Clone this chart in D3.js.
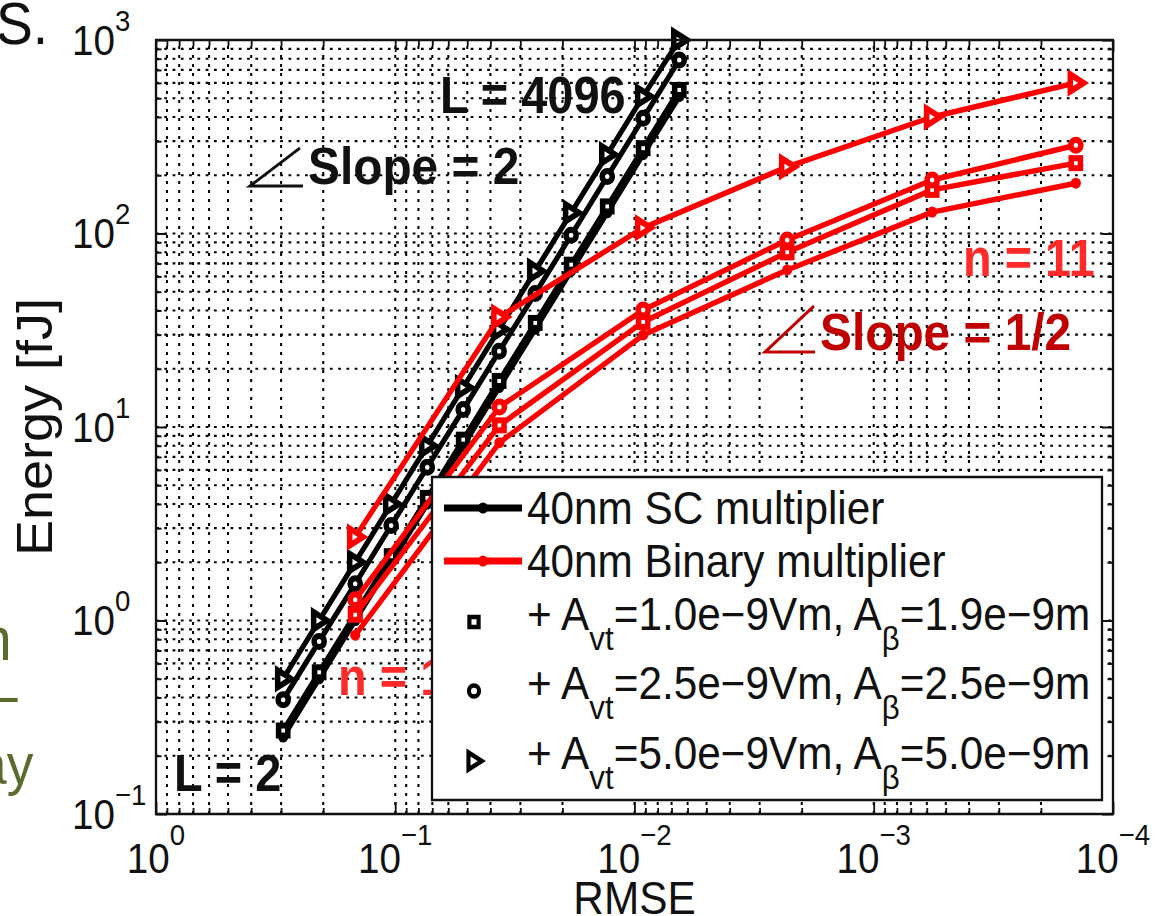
<!DOCTYPE html>
<html><head><meta charset="utf-8">
<script src="https://cdn.jsdelivr.net/npm/d3@7"></script>
<style>html,body{margin:0;padding:0;background:#fff;overflow:hidden}svg{display:block}</style>
</head><body>
<script>
// ---------- data ----------
const xTickExps = [0, -1, -2, -3, -4];
const yTickExps = [-1, 0, 1, 2, 3];

// SC multiplier: L = 2 ... 4096
const scL = [2, 4, 8, 16, 32, 64, 128, 256, 512, 1024, 2048, 4096];
const scRMSE = [0.294, 0.208, 0.147, 0.104, 0.0735, 0.052, 0.0368, 0.026, 0.0184, 0.013, 0.0092, 0.0065];
const scBase = [0.25, 0.50, 1.0, 2.0, 4.0, 8.0, 16, 32, 64, 128, 256, 510];
const scSquare = [0.27, 0.54, 1.08, 2.15, 4.3, 8.6, 17.3, 34.5, 69, 138, 276, 552];
const scCircle = [0.39, 0.78, 1.55, 3.1, 6.2, 12.3, 24.6, 49, 98, 197, 394, 788];
const scTriangle = [0.50, 1.0, 2.0, 4.0, 8.0, 16, 32, 64, 128, 256, 512, 1000];

// Binary multiplier: n = 1 ... 11
const binN = [1, 3, 5, 7, 9, 11];
const binRMSE = [0.147, 0.0367, 0.0092, 0.0023, 0.00057, 0.000143];
const binBase = [0.84, 8.3, 29.9, 64.8, 129, 182];
const binSquare = [1.07, 10.2, 34.9, 80, 168, 231];
const binCircle = [1.28, 12.7, 40.2, 92.6, 189, 286];
const binTriangle = [2.7, 37, 107, 221, 400, 600];

const legendLabels = ["40nm SC multiplier", "40nm Binary multiplier"];
const mismatchLabels = [
  ["1.0e\u22129Vm", "1.9e\u22129m"],
  ["2.5e\u22129Vm", "2.5e\u22129m"],
  ["5.0e\u22129Vm", "5.0e\u22129m"]
];

// ---------- setup ----------
const W = 1163, H = 916, SX = 0.92;
const X = px => px / SX;
const FONT = "'Liberation Sans', Arial, Helvetica, sans-serif";
const svg = d3.select("body").append("svg").attr("width", W).attr("height", H)
  .style("font-family", FONT);
const root = svg.append("g").attr("transform", `scale(${SX},1)`);

const x = d3.scaleLog().domain([1, 1e-4]).range([X(156), X(1113)]);
const y = d3.scaleLog().domain([0.1, 1000]).range([814, 40]);
const [x0, x1] = x.range(), [y0, y1] = y.range();

const majorX = xTickExps.map(e => Math.pow(10, e));
const majorY = yTickExps.map(e => Math.pow(10, e));
const minorX = [], minorY = [];
for (let e = -4; e <= -1; e++) for (let m = 2; m <= 9; m++) minorX.push(m * Math.pow(10, e));
for (let e = -1; e <= 2; e++) for (let m = 2; m <= 9; m++) minorY.push(m * Math.pow(10, e));

// ---------- background fragments ----------
root.append("text").attr("x", X(-4)).attr("y", 44).attr("font-size", 60).attr("fill", "#111").text("S.");
root.append("text").attr("x", X(-20)).attr("y", 660).attr("font-size", 62).attr("fill", "#5b6b2e").text("n");
root.append("text").attr("x", X(-14)).attr("y", 716).attr("font-size", 62).attr("fill", "#5b6b2e").text("\u2013");
root.append("text").attr("x", X(-23)).attr("y", 784).attr("font-size", 58).attr("fill", "#5b6b2e").text("ay");

// ---------- grid ----------
const grid = root.append("g").attr("stroke", "#000").attr("stroke-width", 2.2).attr("fill", "none");
grid.selectAll("line.gx").data(minorX.concat(majorX.slice(1, -1))).enter().append("line")
  .attr("x1", d => x(d)).attr("x2", d => x(d)).attr("y1", y0).attr("y2", y1)
  .attr("stroke-dasharray", "3,6");
grid.selectAll("line.gy").data(minorY.concat(majorY.slice(1, -1))).enter().append("line")
  .attr("y1", d => y(d)).attr("y2", d => y(d)).attr("x1", x0).attr("x2", x1)
  .attr("stroke-dasharray", "3,6");

// ---------- ticks via d3 axes ----------
function tickAxis(axisFn, scale, vals, size, tr) {
  const g = root.append("g").attr("transform", tr)
    .call(axisFn(scale).tickValues(vals).tickSizeInner(size).tickSizeOuter(0).tickFormat(""));
  g.select(".domain").remove();
  g.selectAll(".tick line").attr("stroke", "#111").attr("stroke-width", 2);
}
tickAxis(d3.axisBottom, x, majorX, -12, `translate(0,${y0})`);
tickAxis(d3.axisBottom, x, minorX, -6, `translate(0,${y0})`);
tickAxis(d3.axisTop, x, majorX, -12, `translate(0,${y1})`);
tickAxis(d3.axisTop, x, minorX, -6, `translate(0,${y1})`);
tickAxis(d3.axisLeft, y, majorY, -12, `translate(${x0},0)`);
tickAxis(d3.axisLeft, y, minorY, -6, `translate(${x0},0)`);
tickAxis(d3.axisRight, y, majorY, -12, `translate(${x1},0)`);
tickAxis(d3.axisRight, y, minorY, -6, `translate(${x1},0)`);

// ---------- tick labels ----------
const expStr = e => e < 0 ? "\u2212" + Math.abs(e) : String(e);
xTickExps.forEach(e => {
  const t = root.append("text").attr("x", x(Math.pow(10, e))).attr("y", 873)
    .attr("text-anchor", "middle").attr("font-size", 42).attr("fill", "#111");
  t.append("tspan").text("10");
  t.append("tspan").attr("dy", -28).attr("font-size", 30).text(expStr(e));
});
yTickExps.forEach(e => {
  const t = root.append("text").attr("x", X(72)).attr("y", y(Math.pow(10, e)) + 15)
    .attr("font-size", 42).attr("fill", "#111");
  t.append("tspan").text("10");
  t.append("tspan").attr("dy", -24).attr("font-size", 30).text(expStr(e));
});

// axis titles
root.append("text").attr("x", (x0 + x1) / 2).attr("y", 914).attr("text-anchor", "middle")
  .attr("font-size", 46).attr("fill", "#111").text("RMSE");
root.append("text").attr("transform", `translate(${X(52)},${(y0 + y1) / 2}) rotate(-90)`)
  .attr("text-anchor", "middle").attr("font-size", 54).attr("fill", "#111").text("Energy [fJ]");

// ---------- series ----------
const seriesDefs = [
  { r: scRMSE, v: scBase, color: "#000", marker: "dot" },
  { r: scRMSE, v: scSquare, color: "#000", marker: "square" },
  { r: scRMSE, v: scCircle, color: "#000", marker: "circle" },
  { r: scRMSE, v: scTriangle, color: "#000", marker: "triangle" },
  { r: binRMSE, v: binBase, color: "#ff0000", marker: "dot" },
  { r: binRMSE, v: binSquare, color: "#ff0000", marker: "square" },
  { r: binRMSE, v: binCircle, color: "#ff0000", marker: "circle" },
  { r: binRMSE, v: binTriangle, color: "#ff0000", marker: "triangle" }
];

function drawMarker(g, type, cx, cy, color, fill, sw, k) {
  const s = g.append("g").attr("transform", `translate(${cx},${cy})`);
  if (type === "dot") s.append("circle").attr("r", 5.5).attr("fill", color);
  else if (type === "square") s.append("rect").attr("x", -5 * k).attr("y", -5 * k).attr("width", 10 * k).attr("height", 10 * k)
    .attr("fill", fill).attr("stroke", color).attr("stroke-width", sw);
  else if (type === "circle") s.append("circle").attr("r", 5.5 * k)
    .attr("fill", fill).attr("stroke", color).attr("stroke-width", sw);
  else if (type === "triangle") s.append("path")
    .attr("d", `M${-6 * k},${-8.5 * k}L${8.5 * k},0L${-6 * k},${8.5 * k}Z`)
    .attr("fill", fill).attr("stroke", color).attr("stroke-width", sw).attr("stroke-linejoin", "miter");
}

const line = d3.line().x(d => x(d[0])).y(d => y(d[1]));
const dataG = root.append("g");
seriesDefs.forEach(s => {
  const pts = s.r.map((r, i) => [r, s.v[i]]);
  dataG.append("path").attr("d", line(pts)).attr("fill", "none")
    .attr("stroke", s.color).attr("stroke-width", 5.5).attr("stroke-linejoin", "round");
  pts.forEach(p => drawMarker(dataG, s.marker, x(p[0]), y(p[1]), s.color, "#fff", 6, 1));
});

// ---------- annotations ----------
const ann = root.append("g").attr("font-weight", "bold");
ann.append("text").attr("x", X(440)).attr("y", 113).attr("font-size", 51).attr("fill", "#111").text("L = 4096");
ann.append("text").attr("x", X(308)).attr("y", 184).attr("font-size", 52).attr("fill", "#111").text("Slope = 2");
root.append("path").attr("d", `M${X(300)},${148}L${X(250)},${186}L${X(303)},${186}`)
  .attr("fill", "none").attr("stroke", "#111").attr("stroke-width", 3);
ann.append("text").attr("x", X(963)).attr("y", 276).attr("font-size", 51).attr("fill", "#ff2a2a").text("n = 11");
ann.append("text").attr("x", X(820)).attr("y", 350).attr("font-size", 52).attr("fill", "#c00000").text("Slope = 1/2");
root.append("path").attr("d", `M${X(814)},${306}L${X(765)},${352}L${X(815)},${352}`)
  .attr("fill", "none").attr("stroke", "#c00000").attr("stroke-width", 3);
ann.append("text").attr("x", X(338)).attr("y", 695).attr("font-size", 51).attr("fill", "#ff2a2a").text("n = 1");
ann.append("text").attr("x", X(174)).attr("y", 791).attr("font-size", 51).attr("fill", "#111").text("L = 2");

// ---------- legend ----------
const lg = root.append("g");
lg.append("rect").attr("x", X(432)).attr("y", 477).attr("width", X(1102) - X(432)).attr("height", 323)
  .attr("fill", "#fff").attr("stroke", "#111").attr("stroke-width", 2.5);
const legRows = [508, 561];
const legColors = ["#000", "#ff0000"];
legendLabels.forEach((lab, i) => {
  const yy = legRows[i];
  lg.append("line").attr("x1", X(444)).attr("x2", X(522)).attr("y1", yy).attr("y2", yy)
    .attr("stroke", legColors[i]).attr("stroke-width", 7);
  drawMarker(lg, "dot", X(483), yy, legColors[i], legColors[i], 0, 1);
  lg.append("text").attr("x", X(527)).attr("y", yy + 16).attr("font-size", 46).attr("fill", "#111").text(lab);
});
const mRows = [622, 691, 761];
const mTypes = ["square", "circle", "triangle"];
mismatchLabels.forEach((lab, i) => {
  const yy = mRows[i];
  drawMarker(lg, mTypes[i], X(474), yy, "#000", "#fff", 4.5, 1);
  const t = lg.append("text").attr("x", X(527)).attr("y", yy + 8).attr("font-size", 46).attr("fill", "#111");
  t.append("tspan").text("+ A");
  t.append("tspan").attr("dy", 20).attr("font-size", 34).text("vt");
  t.append("tspan").attr("dy", -20).text("=" + lab[0] + ", A");
  t.append("tspan").attr("dy", 20).attr("font-size", 34).text("\u03b2");
  t.append("tspan").attr("dy", -20).text("=" + lab[1]);
});

// ---------- axes box ----------
root.append("rect").attr("x", x0).attr("y", y1).attr("width", x1 - x0).attr("height", y0 - y1)
  .attr("fill", "none").attr("stroke", "#111").attr("stroke-width", 2.5);
</script>
</body></html>
